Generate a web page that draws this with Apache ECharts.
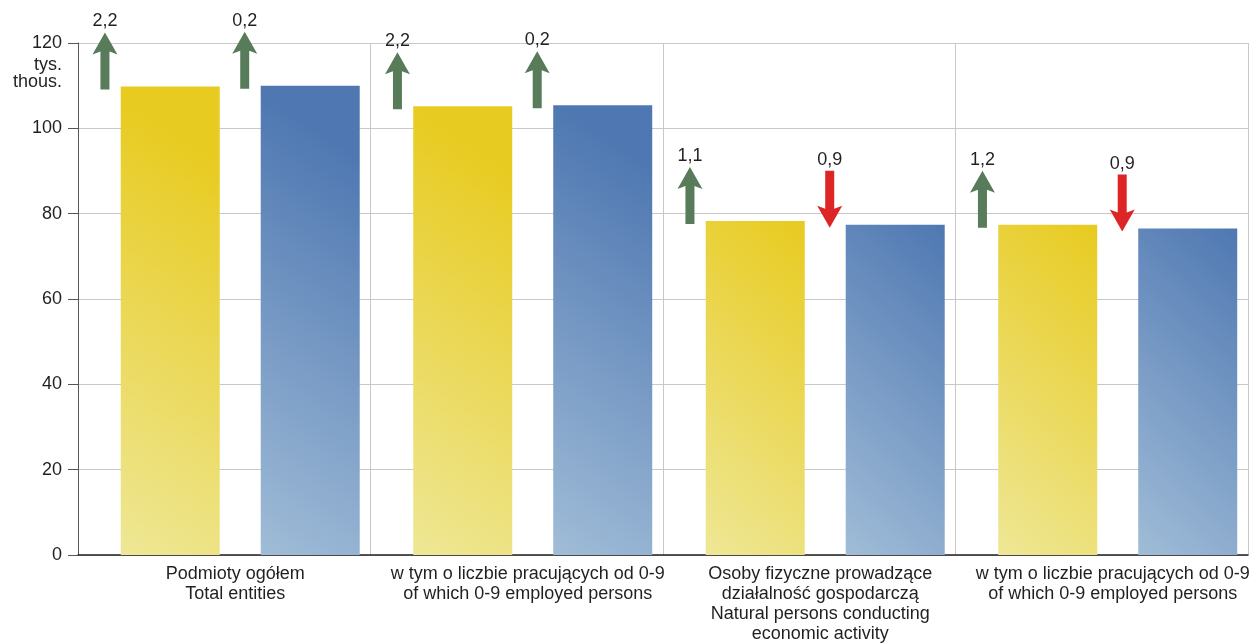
<!DOCTYPE html>
<html>
<head>
<meta charset="utf-8">
<script src="https://cdn.jsdelivr.net/npm/echarts@6/dist/echarts.min.js"></script>
<style>
html,body{margin:0;padding:0;background:#fff;}
#chart{width:1260px;height:644px;}
</style>
</head>
<body>
<div id="chart"></div>
<script>
const categories = [
  'Podmioty ogółem\nTotal entities',
  'w tym o liczbie pracujących od 0-9\nof which 0-9 employed persons',
  'Osoby fizyczne prowadzące\ndziałalność gospodarczą\nNatural persons conducting\neconomic activity',
  'w tym o liczbie pracujących od 0-9\nof which 0-9 employed persons'
];
const seriesA = [109.8, 105.2, 78.3, 77.4];
const seriesB = [110.0, 105.4, 77.4, 76.5];
const changeA = [2.2, 2.2, 1.1, 1.2];
const changeB = [0.2, 0.2, -0.9, -0.9];
const yMin = 0, yMax = 120, yStep = 20;
const unitLabel = 'tys.\nthous.';

const FONT = '"Liberation Sans", Arial, Helvetica, sans-serif';
const TXT = '#231F20';
const GREEN = '#587B5A';
const RED = '#DE2526';

function grad(c0, c1) {
  return new echarts.graphic.LinearGradient(0, 1, 3, 0, [
    { offset: 0, color: c0 },
    { offset: 0.7, color: c1 },
    { offset: 1, color: c1 }
  ]);
}

function arrowSeries(values, changes, offsetFrac) {
  return {
    type: 'custom',
    silent: true,
    z: 5,
    clip: false,
    data: values.map((v, i) => [i, v, changes[i]]),
    renderItem: function (params, api) {
      const p = api.coord([api.value(0), api.value(1)]);
      const band = api.size([1, 0])[0];
      const x = p[0] + offsetFrac * band;
      const barTop = p[1];
      const ch = api.value(2);
      const up = ch >= 0;
      const top = barTop - 54;
      const bot = barTop + 3;
      const hw = 12.5, sw = 4.5, hh = 22, barb = 3;
      let pts;
      if (up) {
        pts = [[x, top], [x + hw, top + hh], [x + sw, top + hh - barb], [x + sw, bot],
               [x - sw, bot], [x - sw, top + hh - barb], [x - hw, top + hh]];
      } else {
        pts = [[x - sw, top], [x + sw, top], [x + sw, bot - hh + barb], [x + hw, bot - hh],
               [x, bot], [x - hw, bot - hh], [x - sw, bot - hh + barb]];
      }
      return {
        type: 'group',
        children: [
          { type: 'polygon', shape: { points: pts }, style: { fill: up ? GREEN : RED } },
          { type: 'text', style: {
              text: Math.abs(ch).toFixed(1).replace('.', ','),
              x: x, y: top - 11, align: 'center', verticalAlign: 'middle',
              font: '18px ' + FONT, fill: TXT } }
        ]
      };
    }
  };
}

const chart = echarts.init(document.getElementById('chart'), null, { renderer: 'canvas' });
chart.setOption({
  animation: false,
  backgroundColor: '#ffffff',
  grid: { left: 78, right: 12, top: 43, bottom: 86, containLabel: false },
  xAxis: {
    type: 'category',
    data: categories,
    boundaryGap: true,
    axisLine: { show: true, lineStyle: { color: '#231F20', width: 1.5 } },
    axisTick: { show: false },
    axisLabel: {
      interval: 0, color: TXT, fontSize: 18, lineHeight: 20, fontFamily: FONT,
      margin: 9, padding: [0, 0, 0, 22]
    },
    splitLine: { show: true, lineStyle: { color: '#C8C8C8', width: 1 } }
  },
  yAxis: {
    type: 'value',
    min: yMin, max: yMax, interval: yStep,
    name: unitLabel,
    nameLocation: 'end',
    nameGap: -14,
    nameTextStyle: { align: 'right', verticalAlign: 'top', padding: [0, 16, 0, 0],
      fontSize: 18, lineHeight: 17, color: TXT, fontFamily: FONT },
    axisLine: { show: true, lineStyle: { color: '#555555', width: 1 } },
    axisTick: { show: true, length: 10, lineStyle: { color: '#555555' } },
    axisLabel: { color: TXT, fontSize: 18, fontFamily: FONT, margin: 16 },
    splitLine: { show: true, lineStyle: { color: '#C8C8C8', width: 1 } }
  },
  series: [
    { name: '', type: 'bar', data: [], barWidth: 22.6, barGap: '41.4%', silent: true },
    { name: 'A', type: 'bar', data: seriesA, barWidth: 99, barGap: '41.4%',
      itemStyle: { color: grad('#EEE796', '#E8CB20') } },
    { name: 'B', type: 'bar', data: seriesB, barWidth: 99, barGap: '41.4%',
      itemStyle: { color: grad('#A0BCD7', '#4F78B2') } },
    arrowSeries(seriesA, changeA, -119.5 / 293),
    arrowSeries(seriesB, changeB, 20.5 / 293)
  ]
});
</script>
</body>
</html>
